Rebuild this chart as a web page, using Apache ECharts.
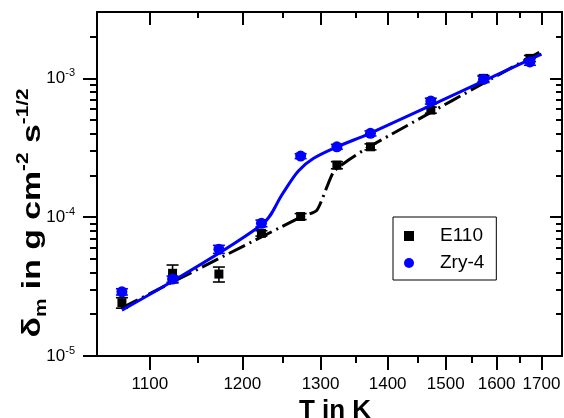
<!DOCTYPE html>
<html><head><meta charset="utf-8">
<script src="https://cdn.jsdelivr.net/npm/echarts@6/dist/echarts.min.js"></script>
<style>html,body{margin:0;padding:0;background:#fff}#c{width:564px;height:418px}</style>
</head><body><div id="c"></div>
<script>
// ---- data (T in K, delta_m in g cm^-2 s^-1/2) ----
const temps = [1073, 1123, 1173, 1223, 1273, 1323, 1373, 1473, 1573, 1673];
const e110 = [2.42e-5, 3.94e-5, 3.89e-5, 7.64e-5, 1.01e-4, 2.37e-4, 3.21e-4, 5.90e-4, 9.98e-4, 1.39e-3];
const e110Err = [2.1e-6, 5.8e-6, 4.8e-6, 3.4e-6, 5.0e-6, 1.4e-5, 1.6e-5, 3.0e-5, 5.0e-5, 7.0e-5];
const zry4 = [2.90e-5, 3.58e-5, 5.87e-5, 9.02e-5, 2.75e-4, 3.21e-4, 4.01e-4, 6.85e-4, 9.82e-4, 1.31e-3];
const zry4Err = [1.5e-6, 1.8e-6, 3.9e-6, 5.0e-6, 1.1e-5, 1.3e-5, 1.7e-5, 3.3e-5, 5.0e-5, 7.0e-5];
const e110FitT = [1073, 1273, 1295, 1318, 1340, 1373, 1700];
const e110Fit = [2.22e-5, 1.00e-4, 1.125e-4, 2.11e-4, 2.58e-4, 3.25e-4, 1.57e-3];
const zryFitT = [1073, 1223, 1250, 1270, 1290, 1323, 1373, 1700];
const zryFit = [2.14e-5, 8.77e-5, 1.49e-4, 2.15e-4, 2.64e-4, 3.20e-4, 4.03e-4, 1.49e-3];
const xRange = [1050, 1750];
const xMajorTicks = [1100, 1200, 1300, 1400, 1500, 1600, 1700];
const xMinorTicks = [1150, 1250, 1350, 1450, 1550, 1650];
const yRange = [1e-5, 3e-3];
const yMajorTicks = [1e-5, 1e-4, 1e-3];
const yMinorTicks = [2e-5, 3e-5, 4e-5, 5e-5, 6e-5, 7e-5, 8e-5, 9e-5,
                     2e-4, 3e-4, 4e-4, 5e-4, 6e-4, 7e-4, 8e-4, 9e-4, 2e-3];
const seriesNames = ['E110', 'Zry-4'];

// reciprocal temperature axis (1000/T) and log10 value axis
const inv = t => 1000 / t;
const lg = v => Math.log10(v);
const FONT = 'Liberation Sans, Arial, sans-serif';

function xAxisDef(pos, ticks, len, inside, showLine, showLabel) {
  return {
    type: 'value', position: pos, gridIndex: 0,
    min: inv(xRange[1]), max: inv(xRange[0]), inverse: true,
    axisLine: {show: showLine, onZero: false, lineStyle: {color: '#000', width: 2}},
    axisTick: {show: true, inside: inside, length: len, customValues: ticks.map(inv),
               lineStyle: {color: '#000', width: 2}},
    axisLabel: {show: showLabel, customValues: ticks.map(inv), margin: 20,
                formatter: v => String(Math.round(1000 / v)),
                color: '#000', fontSize: 17, fontFamily: FONT},
    splitLine: {show: false}, minorTick: {show: false}
  };
}
function yAxisDef(pos, ticks, len, inside, showLine, showLabel) {
  return {
    type: 'value', position: pos, gridIndex: 0,
    min: lg(yRange[0]), max: lg(yRange[1]),
    axisLine: {show: showLine, onZero: false, lineStyle: {color: '#000', width: 2}},
    axisTick: {show: true, inside: inside, length: len, customValues: ticks.map(lg),
               lineStyle: {color: '#000', width: 2}},
    axisLabel: {show: showLabel, customValues: ticks.map(lg), margin: 22,
                formatter: v => '{b|10}{s|' + Math.round(v) + '}',
                rich: {
                  b: {fontSize: 17, fontFamily: FONT, color: '#000', lineHeight: 22, verticalAlign: 'middle'},
                  s: {fontSize: 11, fontFamily: FONT, color: '#000', lineHeight: 12, verticalAlign: 'top'}
                }},
    splitLine: {show: false}, minorTick: {show: false}
  };
}

const xb = xAxisDef('bottom', xMajorTicks, 14, false, true, true);
xb.name = 'T in K';
xb.nameLocation = 'middle';
xb.nameGap = 30;
xb.nameTextStyle = {fontSize: 26, fontWeight: 'bold', fontFamily: FONT, color: '#000', padding: [0, 0, 0, 11]};

function errData(vals, errs) {
  return temps.map((t, i) => [inv(t), lg(vals[i] - errs[i]), lg(vals[i] + errs[i])]);
}
function errSeries(vals, errs, color) {
  return {
    type: 'custom', xAxisIndex: 0, yAxisIndex: 0, z: 3,
    data: errData(vals, errs), encode: {x: 0, y: [1, 2]},
    renderItem: (params, api) => {
      const x = api.value(0);
      const p1 = api.coord([x, api.value(1)]);
      const p2 = api.coord([x, api.value(2)]);
      const hw = 6;
      const st = {stroke: color, lineWidth: 1.6};
      return {type: 'group', children: [
        {type: 'line', shape: {x1: p1[0], y1: p1[1], x2: p2[0], y2: p2[1]}, style: st},
        {type: 'line', shape: {x1: p1[0] - hw, y1: p1[1], x2: p1[0] + hw, y2: p1[1]}, style: st},
        {type: 'line', shape: {x1: p2[0] - hw, y1: p2[1], x2: p2[0] + hw, y2: p2[1]}, style: st}
      ]};
    }
  };
}

const chart = echarts.init(document.getElementById('c'), null, {renderer: 'canvas'});
chart.setOption({
  animation: false,
  backgroundColor: '#fff',
  grid: {left: 97, right: 2, top: 12, bottom: 62, containLabel: false, outerBoundsMode: 'none'},
  xAxis: [
    xb,
    xAxisDef('bottom', xMinorTicks, 7, false, false, false),
    xAxisDef('top', xMajorTicks, 13, true, true, false),
    xAxisDef('top', xMinorTicks, 6, true, false, false)
  ],
  yAxis: [
    yAxisDef('left', yMajorTicks, 14, false, true, true),
    yAxisDef('left', yMinorTicks, 7, false, false, false),
    yAxisDef('right', yMajorTicks, 12, true, true, false),
    yAxisDef('right', yMinorTicks, 6, true, false, false)
  ],
  legend: {
    orient: 'vertical', left: 393, top: 217, padding: [9, 12, 7, 11],
    borderColor: '#000', borderWidth: 1, borderRadius: 0, backgroundColor: '#fff',
    itemWidth: 52, itemHeight: 10, itemGap: 7, symbolKeepAspect: true, selectedMode: false,
    textStyle: {fontSize: 19, fontFamily: FONT, color: '#000', lineHeight: 20},
    data: [
      {name: seriesNames[0], icon: 'path://M0,0L10,0L10,10L0,10Z'},
      {name: seriesNames[1], icon: 'circle'}
    ]
  },
  graphic: [{
    type: 'text', x: 33, y: 213, rotation: Math.PI / 2, scaleX: 1.3, scaleY: 1,
    style: {
      text: '{a|δ}{sub|m}{a| in g cm}{sup|-2}{a| s}{sup|-1/2}',
      align: 'center', verticalAlign: 'middle',
      rich: {
        a: {fontSize: 26, fontWeight: 'bold', fontFamily: FONT, fill: '#000', lineHeight: 34, verticalAlign: 'middle'},
        sub: {fontSize: 16, fontWeight: 'bold', fontFamily: FONT, fill: '#000', lineHeight: 15, verticalAlign: 'bottom'},
        sup: {fontSize: 16, fontWeight: 'bold', fontFamily: FONT, fill: '#000', lineHeight: 16, verticalAlign: 'top'}
      }
    }
  }],
  series: [
    {
      type: 'line', xAxisIndex: 0, yAxisIndex: 0, z: 2, symbol: 'none', smooth: 0.2,
      data: e110FitT.map((t, i) => [inv(t), lg(e110Fit[i])]),
      lineStyle: {color: '#000', width: 3, type: [18, 5, 2, 5]}
    },
    errSeries(e110, e110Err, '#000'),
    errSeries(zry4, zry4Err, '#0000ff'),
    {
      name: seriesNames[0], type: 'scatter', xAxisIndex: 0, yAxisIndex: 0, z: 4,
      symbol: 'rect', symbolSize: 9, itemStyle: {color: '#000', opacity: 1},
      data: temps.map((t, i) => [inv(t), lg(e110[i])])
    },
    {
      name: seriesNames[1], type: 'scatter', xAxisIndex: 0, yAxisIndex: 0, z: 4,
      symbol: 'circle', symbolSize: 11, itemStyle: {color: '#0000ff', opacity: 1},
      data: temps.map((t, i) => [inv(t), lg(zry4[i])])
    },
    {
      type: 'line', xAxisIndex: 0, yAxisIndex: 0, z: 5, symbol: 'none', smooth: 0.35,
      data: zryFitT.map((t, i) => [inv(t), lg(zryFit[i])]),
      lineStyle: {color: '#0000ff', width: 3, type: 'solid'}
    }
  ]
});
</script></body></html>
